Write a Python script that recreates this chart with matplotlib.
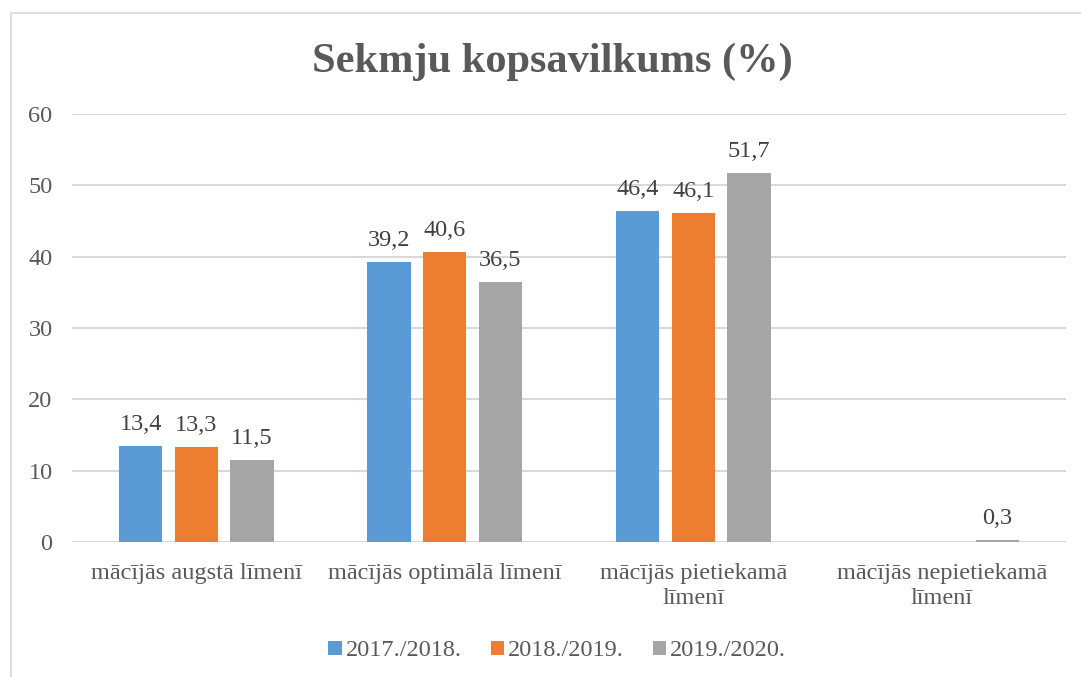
import matplotlib
matplotlib.use("Agg")
import matplotlib.pyplot as plt
import numpy as np
from matplotlib.patches import Rectangle

categories = ["mācījās augstā līmenī", "mācījās optimālā līmenī",
              "mācījās pietiekamā\nlīmenī", "mācījās nepietiekamā\nlīmenī"]
series_names = ["2017./2018.", "2018./2019.", "2019./2020."]
s2017 = [13.4, 39.2, 46.4, None]
s2018 = [13.3, 40.6, 46.1, None]
s2019 = [11.5, 36.5, 51.7, 0.3]
yticks = [0, 10, 20, 30, 40, 50, 60]
title = "Sekmju kopsavilkums (%)"

colors = ["#5B9BD5", "#ED7D31", "#A5A5A5"]
txt = "#595959"
plt.rcParams['font.family'] = ['Liberation Serif', 'DejaVu Serif']
FS = 17.5

fig = plt.figure(figsize=(10.81, 6.77), dpi=100)
W, H = 1081, 677
ax = fig.add_axes([72 / W, 1 - 542 / H, (1066 - 72) / W, (542 - 114) / H])

# outer chart border
fig.patches.append(Rectangle((10.5 / W, -0.1), 1.2, 1 - 12.5 / H + 0.1,
                             transform=fig.transFigure, fill=False,
                             edgecolor="#D9D9D9", linewidth=1.2))

x = np.arange(len(categories))
width = 0.175
offsets = [-0.224, 0.0, 0.224]
for i, (vals, c, name) in enumerate(zip([s2017, s2018, s2019], colors, series_names)):
    xs = [xx + offsets[i] for xx, v in zip(x, vals) if v is not None]
    vs = [v for v in vals if v is not None]
    bars = ax.bar(xs, vs, width, color=c, label=name, zorder=3)
    for b, v in zip(bars, vs):
        ax.annotate(f"{v:.1f}".replace(".", ","),
                    (b.get_x() + b.get_width() / 2, v),
                    xytext=(0, 11.5), textcoords="offset points",
                    ha="center", va="baseline", fontsize=FS, color="#404040")

ax.set_xlim(-0.5, 3.5)
ax.set_ylim(0, 60)
ax.set_yticks(yticks)
ax.set_yticklabels([str(t) for t in yticks], fontsize=FS, color=txt)
ax.set_xticks(x)
ax.set_xticklabels(categories, fontsize=FS, color=txt, linespacing=1.25)
ax.tick_params(axis="both", length=0)
ax.tick_params(axis="y", pad=14)
ax.tick_params(axis="x", pad=15)
ax.grid(axis="y", color="#D9D9D9", linewidth=1.5, zorder=0)
for s in ax.spines.values():
    s.set_visible(False)

fig.text(552 / W, 1 - 62 / H, title, ha="center", va="center",
         fontsize=30.5, fontweight="bold", color=txt)

leg = fig.legend(loc="center", bbox_to_anchor=(557 / W, 1 - 651 / H), ncol=3,
                 frameon=False, fontsize=FS, handlelength=0.55, handleheight=0.55,
                 handletextpad=0.15, columnspacing=1.2)
for t in leg.get_texts():
    t.set_color(txt)

fig.savefig("out.png", dpi=100)
